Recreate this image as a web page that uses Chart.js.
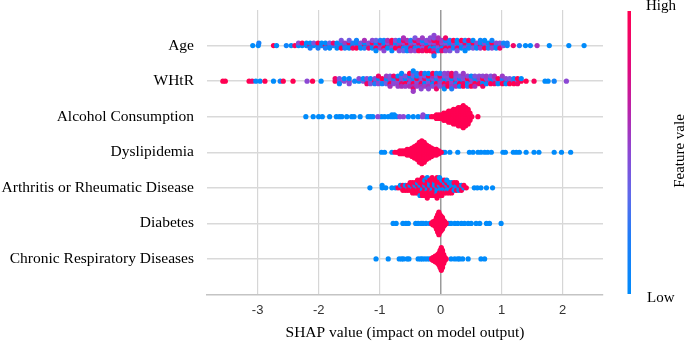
<!DOCTYPE html>
<html>
<head>
<meta charset="utf-8">
<script src="https://cdn.jsdelivr.net/npm/chart.js@4.4.0/dist/chart.umd.min.js"></script>
<style>
  html, body { margin: 0; padding: 0; background: #ffffff; }
  #wrap { width: 685px; height: 342px; }
</style>
</head>
<body>
<div id="wrap"><canvas id="shapChart" width="685" height="342"></canvas></div>
<script>
// feature rows, top to bottom
const features = [
    "Age",
    "WHtR",
    "Alcohol Consumption",
    "Dyslipidemia",
    "Arthritis or Rheumatic Disease",
    "Diabetes",
    "Chronic Respiratory Diseases"
];

const xTicks = [-3, -2, -1, 0, 1, 2];

// Age: SHAP value and scaled feature value (0 = low, 1 = high) per sample
const ageShap = [
    -3.08, -2.99, -2.98, -2.74, -2.69, -2.53, -2.45, -2.39, -2.33, -2.33,
    -2.27, -2.27,
    -2.20, -2.20,
    -2.14, -2.14, -2.14,
    -2.08, -2.08,
    -2.01, -2.01, -2.01,
    -1.95, -1.95,
    -1.89, -1.89, -1.89,
    -1.82, -1.82, -1.82,
    -1.76, -1.76,
    -1.70, -1.70, -1.70,
    -1.63, -1.63, -1.63, -1.63,
    -1.57, -1.57, -1.57,
    -1.50, -1.50, -1.50, -1.50,
    -1.44, -1.44, -1.44,
    -1.38, -1.38, -1.38, -1.38,
    -1.31, -1.31, -1.31,
    -1.25, -1.25, -1.25, -1.25,
    -1.18, -1.18, -1.18,
    -1.12, -1.12, -1.12, -1.12,
    -1.06, -1.06, -1.06, -1.06, -1.06,
    -0.99, -0.99, -0.99, -0.99,
    -0.93, -0.93, -0.93, -0.93, -0.93,
    -0.87, -0.87, -0.87, -0.87,
    -0.80, -0.80, -0.80, -0.80, -0.80,
    -0.74, -0.74, -0.74, -0.74,
    -0.68, -0.68, -0.68, -0.68, -0.68,
    -0.61, -0.61, -0.61, -0.61, -0.61, -0.61,
    -0.55, -0.55, -0.55, -0.55, -0.55,
    -0.49, -0.49, -0.49, -0.49, -0.49,
    -0.42, -0.42, -0.42, -0.42, -0.42, -0.42,
    -0.36, -0.36, -0.36, -0.36, -0.36,
    -0.30, -0.30, -0.30, -0.30, -0.30, -0.30,
    -0.23, -0.23, -0.23, -0.23, -0.23,
    -0.17, -0.17, -0.17, -0.17, -0.17, -0.17,
    -0.11, -0.11, -0.11, -0.11, -0.11, -0.11, -0.11, -0.11, -0.11,
    -0.04, -0.04, -0.04, -0.04, -0.04, -0.04,
    0.02, 0.02, 0.02, 0.02, 0.02,
    0.08, 0.08, 0.08, 0.08, 0.08, 0.08,
    0.15, 0.15, 0.15, 0.15, 0.15,
    0.21, 0.21, 0.21, 0.21,
    0.27, 0.27, 0.27, 0.27, 0.27,
    0.34, 0.34, 0.34, 0.34,
    0.40, 0.40, 0.40, 0.40, 0.40,
    0.46, 0.46, 0.46, 0.46,
    0.53, 0.53, 0.53, 0.53,
    0.59, 0.59, 0.59,
    0.65, 0.65, 0.65, 0.65,
    0.72, 0.72, 0.72, 0.72,
    0.78, 0.78, 0.78,
    0.84, 0.84, 0.84, 0.84,
    0.91, 0.91, 0.91,
    0.97, 0.97, 0.97,
    1.03, 1.03,
    1.09, 1.09,
    1.19, 1.29, 1.39, 1.47, 1.58, 1.78, 2.10, 2.35
];
const ageFeat = [
    0, 0, 0.15, 1, 0, 0.1, 0, 0.95, 0, 0.5,
    0, 1,
    0.1, 0,
    0.9, 0, 0.2,
    0, 0.45,
    0, 1, 0.2,
    0.1, 0,
    1, 0, 0.2,
    0, 0.4, 0,
    0.2, 0.9,
    0.5, 0, 0,
    0, 0.1, 1, 0.45,
    0, 0.55, 0.2,
    0.1, 1, 0, 0.4,
    0, 0.2, 0.9,
    0.5, 0, 1, 0.1,
    0, 0.45, 0,
    1, 0, 0.2, 0.6,
    0, 0.5, 0.85,
    0.1, 1, 0, 0.5,
    0.5, 0, 1, 0.4, 0,
    0, 0.9, 0.55, 0.2,
    0.45, 0, 1, 0.1, 0.5,
    1, 0.5, 0, 0.6,
    0.2, 0.9, 0.5, 1, 0,
    0.5, 0, 1, 0.45,
    0, 0.55, 1, 0.1, 0.5,
    1, 0.5, 0, 0.9, 0.4, 0.6,
    0.45, 1, 0.1, 0.6, 0,
    0, 0.5, 0.9, 0.2, 0.55,
    1, 0.4, 0, 1, 0.5, 0.45,
    0.5, 0.9, 0.1, 0.6, 1,
    1, 0.5, 0.45, 0, 0.85, 0.55,
    0.55, 0, 1, 0.5, 1,
    0.9, 0.45, 0, 0.6, 1, 0.5,
    1, 0.5, 0, 1, 0.6, 0.45, 0.9, 0.5, 0.1,
    0.5, 0.9, 0.45, 1, 0.1, 0.6,
    1, 0.5, 0, 0.55, 0.85,
    0, 0.45, 1, 0.1, 0.5, 0.9,
    0.5, 0, 0.9, 0.2, 0.45,
    0, 0.55, 0.1, 1,
    0.5, 0, 0.9, 0, 0.45,
    0.1, 0.45, 0, 1,
    0, 0.9, 0.5, 0.2, 0,
    0.5, 0, 0.1, 0.9,
    0, 1, 0.45, 0,
    0.2, 0.5, 0,
    0.9, 0, 0.55, 0.1,
    0, 0.5, 1, 0,
    0.45, 0, 0.2,
    0, 1, 0.5, 0.1,
    0.1, 0.5, 0,
    0, 0.45, 0.9,
    0.5, 0.1,
    0, 0.2,
    0.9, 0.2, 0, 0, 0.6, 0, 0, 0
];

// WHtR
const whtrShap = [
    -3.57, -3.53, -3.14, -3.09, -3.03, -2.96, -2.88, -2.74, -2.63, -2.58,
    -2.42, -2.19, -2.10, -1.96, -1.73, -1.73, -1.66, -1.66, -1.66,
    -1.58, -1.58, -1.50, -1.50, -1.50, -1.41,
    -1.34, -1.34,
    -1.27, -1.27,
    -1.21, -1.21, -1.21,
    -1.15, -1.15, -1.15,
    -1.08, -1.08, -1.08,
    -1.02, -1.02, -1.02, -1.02,
    -0.96, -0.96, -0.96,
    -0.89, -0.89, -0.89, -0.89,
    -0.83, -0.83, -0.83, -0.83, -0.83,
    -0.77, -0.77, -0.77, -0.77,
    -0.70, -0.70, -0.70, -0.70, -0.70,
    -0.64, -0.64, -0.64, -0.64, -0.64, -0.64,
    -0.58, -0.58, -0.58, -0.58, -0.58,
    -0.51, -0.51, -0.51, -0.51, -0.51, -0.51,
    -0.45, -0.45, -0.45, -0.45, -0.45, -0.45, -0.45, -0.45, -0.45,
    -0.39, -0.39, -0.39, -0.39, -0.39, -0.39,
    -0.32, -0.32, -0.32, -0.32, -0.32, -0.32, -0.32,
    -0.26, -0.26, -0.26, -0.26, -0.26, -0.26,
    -0.20, -0.20, -0.20, -0.20, -0.20, -0.20, -0.20,
    -0.13, -0.13, -0.13, -0.13, -0.13, -0.13,
    -0.07, -0.07, -0.07, -0.07, -0.07, -0.07, -0.07,
    -0.01, -0.01, -0.01, -0.01, -0.01, -0.01,
    0.06, 0.06, 0.06, 0.06, 0.06, 0.06, 0.06,
    0.12, 0.12, 0.12, 0.12, 0.12, 0.12,
    0.18, 0.18, 0.18, 0.18, 0.18, 0.18, 0.18,
    0.25, 0.25, 0.25, 0.25, 0.25, 0.25,
    0.31, 0.31, 0.31, 0.31, 0.31,
    0.37, 0.37, 0.37, 0.37, 0.37, 0.37,
    0.44, 0.44, 0.44, 0.44, 0.44,
    0.50, 0.50, 0.50, 0.50, 0.50,
    0.56, 0.56, 0.56, 0.56, 0.56,
    0.63, 0.63, 0.63, 0.63,
    0.69, 0.69, 0.69, 0.69, 0.69,
    0.75, 0.75, 0.75, 0.75,
    0.82, 0.82, 0.82, 0.82,
    0.88, 0.88, 0.88, 0.88,
    0.94, 0.94, 0.94,
    1.01, 1.01, 1.01, 1.01,
    1.07, 1.07, 1.07,
    1.13, 1.13, 1.13,
    1.20, 1.20, 1.20,
    1.26, 1.26, 1.26,
    1.32, 1.32,
    1.40, 1.53, 1.71, 1.76, 1.86, 2.06
];
const whtrFeat = [
    1, 1, 1, 0.9, 0, 0, 1, 0, 0.1, 1,
    1, 0.5, 1, 0, 1, 0.9, 0.5, 0.45, 0,
    0.5, 0, 0.55, 0, 0.5, 0.1,
    0, 0.5,
    0.45, 0,
    0.1, 0.5, 0.9,
    0.5, 0, 0.45,
    1, 0.5, 0.2,
    0.55, 0, 0.5, 0.9,
    0.45, 1, 0.1,
    0.5, 0, 0.4, 0.55,
    0, 0.5, 1, 0.45, 0.6,
    0.55, 0.2, 0.5, 0.9,
    0.45, 1, 0.5, 0, 0.55,
    0.1, 0.5, 0.9, 0.45, 0.6, 0,
    0.5, 0, 1, 0.45, 0.55,
    0.9, 0.5, 0.45, 0, 0.6, 1,
    0.5, 0.1, 1, 0.4, 0.6, 0.45, 0.9, 0, 0.55,
    0.45, 1, 0.5, 0, 0.55, 0.2,
    0, 0.5, 1, 0.45, 0.6, 0.9, 0.5,
    0.5, 0.9, 0, 0.45, 0.55, 0.1,
    0.45, 0.1, 0.5, 1, 0.6, 0, 0.5,
    0.9, 0.5, 0, 0.6, 0.45, 1,
    0.5, 0, 1, 0.45, 0.55, 0.2, 0.9,
    0, 0.55, 0.5, 0.9, 0.45, 0.1,
    0.5, 0, 1, 0.45, 0.6, 0.5, 0,
    0.1, 0.5, 0.9, 0.45, 1, 0.55,
    0.45, 0, 0.5, 1, 0.55, 0.9, 0.2,
    1, 0.5, 0, 0.45, 0.6, 0.5,
    0.5, 0.1, 1, 0.45, 0,
    0, 0.45, 0.9, 0.5, 1, 0.55,
    0.55, 1, 0, 0.5, 0.2,
    0.9, 0.5, 0.45, 0, 1,
    0.5, 0.1, 1, 0.45, 0.6,
    0, 0.55, 0.9, 0.5,
    0.45, 1, 0, 0.5, 0.9,
    0.9, 0.5, 0.1, 0.55,
    0.5, 0, 1, 0.45,
    0, 0.5, 0.9, 0.6,
    0.45, 1, 0,
    0.5, 0.2, 1, 0.55,
    0.9, 0.5, 0,
    0, 0.45, 1,
    0.5, 0.1, 1,
    0.45, 1, 0.9,
    1, 0,
    1, 0.95, 0, 0, 0.1, 0.5
];

// Alcohol Consumption, split by feature level
const alcoholLow = [
    -2.21, -2.09, -2.00, -1.94, -1.82, -1.71, -1.66, -1.62, -1.54, -1.46,
    -1.42, -1.32, -1.19, -1.15, -1.11, -0.97, -0.92, -0.86, -0.81, -0.80,
    -0.77, -0.76, -0.72, -0.53, -0.45, -0.37, -0.24, -0.20
];
const alcoholMid = [-1.03, -0.67, -0.61, -0.30, -0.29];
const alcoholHigh = [
    -0.15,
    -0.11,
    -0.07, -0.07, -0.07,
    -0.03, -0.03, -0.03,
    0.01, 0.01, 0.01,
    0.05, 0.05, 0.05, 0.05, 0.05,
    0.09, 0.09, 0.09, 0.09, 0.09,
    0.13, 0.13, 0.13, 0.13, 0.13, 0.13, 0.13,
    0.17, 0.17, 0.17, 0.17, 0.17, 0.17, 0.17,
    0.21, 0.21, 0.21, 0.21, 0.21, 0.21, 0.21, 0.21, 0.21,
    0.25, 0.25, 0.25, 0.25, 0.25, 0.25, 0.25, 0.25, 0.25,
    0.29, 0.29, 0.29, 0.29, 0.29, 0.29, 0.29, 0.29, 0.29, 0.29, 0.29,
    0.33, 0.33, 0.33, 0.33, 0.33, 0.33, 0.33, 0.33, 0.33, 0.33, 0.33,
    0.37, 0.37, 0.37, 0.37, 0.37, 0.37, 0.37, 0.37, 0.37, 0.37, 0.37, 0.37, 0.37,
    0.41, 0.41, 0.41, 0.41, 0.41, 0.41, 0.41, 0.41, 0.41, 0.41, 0.41,
    0.45, 0.45, 0.45, 0.45, 0.45, 0.45, 0.45, 0.45, 0.45,
    0.48, 0.48, 0.48, 0.48, 0.48,
    0.51,
    0.61
];

// Dyslipidemia
const dysLow = [
    -0.97, -0.92, -0.80, 0.04, 0.07, 0.15, 0.28, 0.47, 0.53, 0.61,
    0.66, 0.72, 0.77, 0.83, 1.02, 1.06, 1.19, 1.24, 1.29, 1.40,
    1.53, 1.61, 1.86, 1.98, 2.13
];
const dysHigh = [
    -0.75,
    -0.71,
    -0.67, -0.67, -0.67,
    -0.63, -0.63, -0.63,
    -0.59, -0.59, -0.59,
    -0.55, -0.55, -0.55, -0.55, -0.55,
    -0.51, -0.51, -0.51, -0.51, -0.51,
    -0.47, -0.47, -0.47, -0.47, -0.47, -0.47, -0.47,
    -0.43, -0.43, -0.43, -0.43, -0.43, -0.43, -0.43, -0.43, -0.43,
    -0.39, -0.39, -0.39, -0.39, -0.39, -0.39, -0.39, -0.39, -0.39, -0.39, -0.39,
    -0.35, -0.35, -0.35, -0.35, -0.35, -0.35, -0.35, -0.35, -0.35, -0.35, -0.35, -0.35, -0.35, -0.35, -0.35,
    -0.31, -0.31, -0.31, -0.31, -0.31, -0.31, -0.31, -0.31, -0.31, -0.31, -0.31, -0.31, -0.31, -0.31, -0.31, -0.31, -0.31,
    -0.27, -0.27, -0.27, -0.27, -0.27, -0.27, -0.27, -0.27, -0.27, -0.27, -0.27, -0.27, -0.27, -0.27, -0.27,
    -0.23, -0.23, -0.23, -0.23, -0.23, -0.23, -0.23, -0.23, -0.23, -0.23, -0.23,
    -0.19, -0.19, -0.19, -0.19, -0.19, -0.19, -0.19, -0.19, -0.19,
    -0.15, -0.15, -0.15, -0.15, -0.15, -0.15, -0.15,
    -0.11, -0.11, -0.11, -0.11, -0.11,
    -0.07, -0.07, -0.07, -0.07, -0.07,
    -0.03, -0.03, -0.03,
    0.01
];

// Arthritis or Rheumatic Disease (0 = no, 1 = yes)
const arthShap = [
    -1.16, -0.96, -0.96, -0.90, -0.80, -0.74,
    -0.70,
    -0.66, -0.66,
    -0.62, -0.62, -0.62,
    -0.58, -0.58, -0.58,
    -0.54, -0.54, -0.54,
    -0.50, -0.50, -0.50, -0.50,
    -0.46, -0.46, -0.46, -0.46, -0.46,
    -0.42, -0.42, -0.42, -0.42, -0.42,
    -0.38, -0.38, -0.38, -0.38, -0.38, -0.38,
    -0.34, -0.34, -0.34, -0.34, -0.34, -0.34, -0.34,
    -0.30, -0.30, -0.30, -0.30, -0.30, -0.30, -0.30, -0.30,
    -0.26, -0.26, -0.26, -0.26, -0.26, -0.26, -0.26,
    -0.22, -0.22, -0.22, -0.22, -0.22, -0.22, -0.22, -0.22, -0.22,
    -0.18, -0.18, -0.18, -0.18, -0.18, -0.18, -0.18,
    -0.14, -0.14, -0.14, -0.14, -0.14, -0.14, -0.14, -0.14,
    -0.10, -0.10, -0.10, -0.10, -0.10, -0.10, -0.10,
    -0.06, -0.06, -0.06, -0.06, -0.06, -0.06, -0.06, -0.06, -0.06,
    -0.02, -0.02, -0.02, -0.02, -0.02, -0.02, -0.02, -0.02,
    0.02, 0.02, 0.02, 0.02, 0.02, 0.02, 0.02,
    0.06, 0.06, 0.06, 0.06, 0.06, 0.06,
    0.10, 0.10, 0.10, 0.10, 0.10, 0.10,
    0.14, 0.14, 0.14, 0.14, 0.14,
    0.18, 0.18, 0.18, 0.18, 0.18,
    0.22, 0.22, 0.22, 0.22,
    0.26, 0.26, 0.26, 0.26,
    0.30, 0.30, 0.30,
    0.34, 0.34, 0.34,
    0.38, 0.38,
    0.42,
    0.55, 0.60, 0.66, 0.75, 0.85
];
const arthFeat = [
    0, 0, 0, 0, 0, 0,
    1,
    1, 0,
    0, 1, 1,
    1, 0, 1,
    0, 1, 1,
    1, 0, 1, 1,
    0, 1, 1, 1, 1,
    1, 0, 1, 1, 1,
    0, 1, 1, 0, 1, 1,
    1, 0, 1, 1, 1, 1, 0,
    0, 1, 0, 1, 1, 1, 1, 1,
    1, 0, 1, 1, 1, 0, 1,
    0, 1, 0, 1, 1, 1, 1, 0, 1,
    1, 0, 1, 0, 1, 1, 1,
    0, 1, 0, 1, 1, 1, 1, 1,
    1, 0, 1, 0, 1, 1, 1,
    0, 1, 0, 1, 0, 1, 1, 1, 1,
    1, 0, 0, 1, 1, 1, 1, 0,
    0, 1, 0, 1, 1, 0, 1,
    0, 1, 0, 0, 1, 1,
    1, 0, 0, 1, 1, 0,
    0, 1, 0, 0, 1,
    0, 0, 1, 0, 1,
    1, 0, 0, 1,
    0, 0, 1, 1,
    0, 1, 0,
    1, 0, 1,
    0, 1,
    1,
    0, 0, 0, 0, 0
];

// Diabetes
const diaLow = [
    -0.78, -0.73, -0.62, -0.57, -0.53, -0.41, -0.37, -0.32, -0.29, -0.24,
    -0.18, 0.13, 0.17, 0.23, 0.28, 0.34, 0.39, 0.45, 0.50, 0.58,
    0.64, 0.75, 0.80, 0.99
];
const diaHigh = [
    -0.15,
    -0.13, -0.13, -0.13,
    -0.11, -0.11, -0.11,
    -0.09, -0.09, -0.09, -0.09, -0.09,
    -0.07, -0.07, -0.07, -0.07, -0.07, -0.07, -0.07, -0.07, -0.07,
    -0.05, -0.05, -0.05, -0.05, -0.05, -0.05, -0.05, -0.05, -0.05, -0.05, -0.05, -0.05, -0.05,
    -0.03, -0.03, -0.03, -0.03, -0.03, -0.03, -0.03, -0.03, -0.03, -0.03, -0.03, -0.03, -0.03, -0.03, -0.03, -0.03, -0.03,
    -0.01, -0.01, -0.01, -0.01, -0.01, -0.01, -0.01, -0.01, -0.01, -0.01, -0.01, -0.01, -0.01,
    0.01, 0.01, 0.01, 0.01, 0.01, 0.01, 0.01, 0.01, 0.01, 0.01, 0.01,
    0.03, 0.03, 0.03, 0.03, 0.03, 0.03, 0.03, 0.03, 0.03,
    0.05, 0.05, 0.05, 0.05, 0.05,
    0.07, 0.07, 0.07,
    0.09
];

// Chronic Respiratory Diseases
const chrLow = [
    -1.06, -0.86, -0.68, -0.64, -0.61, -0.55, -0.52, -0.37, -0.33, -0.30,
    -0.26, -0.22, -0.18, 0.17, 0.23, 0.28, 0.31, 0.36, 0.45, 0.66,
    0.72
];
const chrHigh = [
    -0.15,
    -0.13, -0.13, -0.13,
    -0.11, -0.11, -0.11,
    -0.09, -0.09, -0.09, -0.09, -0.09,
    -0.07, -0.07, -0.07, -0.07, -0.07,
    -0.05, -0.05, -0.05, -0.05, -0.05, -0.05, -0.05,
    -0.03, -0.03, -0.03, -0.03, -0.03, -0.03, -0.03, -0.03, -0.03,
    -0.01, -0.01, -0.01, -0.01, -0.01, -0.01, -0.01, -0.01, -0.01, -0.01, -0.01, -0.01, -0.01,
    0.01, 0.01, 0.01, 0.01, 0.01, 0.01, 0.01, 0.01, 0.01, 0.01, 0.01, 0.01, 0.01, 0.01, 0.01, 0.01, 0.01,
    0.03, 0.03, 0.03, 0.03, 0.03, 0.03, 0.03, 0.03, 0.03, 0.03, 0.03, 0.03, 0.03,
    0.05, 0.05, 0.05, 0.05, 0.05, 0.05, 0.05,
    0.07, 0.07, 0.07,
    0.09
];

// shap-like colour map, low (blue) to high (red)
const colorStops = [
    [0, 0, 139, 251],
    [0.2, 30, 125, 248],
    [0.35, 95, 105, 235],
    [0.5, 140, 72, 212],
    [0.65, 185, 35, 170],
    [0.8, 225, 10, 125],
    [1, 255, 0, 82]
];

function featColor(f) {
    for (let i = 1; i < colorStops.length; i++) {
        const a = colorStops[i - 1], b = colorStops[i];
        if (f <= b[0]) {
            const t = (f - a[0]) / (b[0] - a[0]);
            const c = [1, 2, 3].map(k => Math.round(a[k] + (b[k] - a[k]) * t));
            return "rgb(" + c.join(",") + ")";
        }
    }
    return "rgb(255,0,82)";
}

// beeswarm offsets the way shap lays them out (binned, alternating up/down)
function swarm(vals) {
    const nbins = 100, rowHeight = 0.4;
    const lo = Math.min(...vals), hi = Math.max(...vals);
    const quant = vals.map(v => Math.round(nbins * (v - lo) / (hi - lo + 1e-8)));
    const order = vals.map((v, i) => i).sort((a, b) => quant[a] - quant[b] || a - b);
    const ys = new Array(vals.length).fill(0);
    let layer = 0, last = -1;
    order.forEach(i => {
        if (quant[i] !== last) layer = 0;
        ys[i] = Math.ceil(layer / 2) * ((layer % 2) * 2 - 1);
        layer++;
        last = quant[i];
    });
    const top = Math.max(...ys.map(y => y + 1));
    return ys.map(y => y * 0.9 * rowHeight / top);
}

const points = [];

function addRow(row, shap, feat) {
    const off = swarm(shap);
    shap.forEach((v, i) => points.push({ x: v, y: row - off[i], f: feat[i] }));
}

function addSplitRow(row, low, mid, high) {
    const shap = low.concat(mid, high);
    const feat = low.map(() => 0).concat(mid.map(() => 0.5), high.map(() => 1));
    addRow(row, shap, feat);
}

// bottom rows first, like shap
addSplitRow(6, chrLow, [], chrHigh);
addSplitRow(5, diaLow, [], diaHigh);
addRow(4, arthShap, arthFeat);
addSplitRow(3, dysLow, [], dysHigh);
addSplitRow(2, alcoholLow, alcoholMid, alcoholHigh);
addRow(1, whtrShap, whtrFeat);
addRow(0, ageShap, ageFeat);

const serif = "'Liberation Serif', 'Times New Roman', serif";

const colorBar = {
    id: "colorBar",
    afterDraw(chart) {
        const c = chart.ctx;
        const top = 11, bottom = 294, x = 627.5, w = 3.5;
        const g = c.createLinearGradient(0, bottom, 0, top);
        colorStops.forEach(s => g.addColorStop(s[0], "rgb(" + s[1] + "," + s[2] + "," + s[3] + ")"));
        c.save();
        c.fillStyle = g;
        c.fillRect(x, top, w, bottom - top);
        c.fillStyle = "#000";
        c.font = "15px " + serif;
        c.textAlign = "left";
        c.textBaseline = "middle";
        c.fillText("High", 646, 6);
        c.fillText("Low", 647, 298);
        c.translate(680, 151);
        c.rotate(-Math.PI / 2);
        c.textAlign = "center";
        c.fillText("Feature vale", 0, 0);
        c.restore();
    }
};

new Chart(document.getElementById("shapChart"), {

    type: "scatter",

    data: {
        datasets: [{
            data: points,
            backgroundColor: ctx => featColor(ctx.raw ? ctx.raw.f : 0),
            pointRadius: 2.6,
            pointHoverRadius: 2.6,
            borderWidth: 0
        }]
    },

    options: {

        responsive: false,
        animation: false,

        layout: {
            padding: { top: 10, right: 82, left: 0, bottom: 0 }
        },

        plugins: {
            legend: { display: false },
            tooltip: { enabled: false }
        },

        scales: {

            x: {
                type: "linear",
                min: -3.83,
                max: 2.66,
                afterBuildTicks: s => { s.ticks = xTicks.map(v => ({ value: v })); },
                afterFit: s => { s.height = 47.5; s.paddingLeft = 0; s.paddingRight = 0; },
                grid: {
                    color: ctx => (ctx.tick && ctx.tick.value === 0) ? "#9a9a9a" : "#d6d6d6",
                    lineWidth: ctx => (ctx.tick && ctx.tick.value === 0) ? 1.5 : 1.2,
                    drawTicks: false
                },
                border: { display: true, color: "#c4c4c4", width: 1.5 },
                ticks: {
                    padding: 8,
                    color: "#333",
                    font: { family: "'Liberation Sans', Arial, sans-serif", size: 13 },
                    callback: v => String(v)
                },
                title: {
                    display: true,
                    text: "SHAP value (impact on model output)",
                    color: "#000",
                    font: { family: serif, size: 15.5 },
                    padding: { top: 0, bottom: 0 }
                }
            },

            y: {
                type: "linear",
                reverse: true,
                min: -1,
                max: 7,
                afterBuildTicks: s => { s.ticks = features.map((f, i) => ({ value: i })); },
                afterFit: s => { s.width = 207; s.paddingTop = 0; s.paddingBottom = 0; },
                grid: {
                    color: "#d9d9d9",
                    lineWidth: 1.5,
                    drawTicks: false
                },
                border: { display: false },
                ticks: {
                    padding: 13,
                    color: "#000",
                    font: { family: serif, size: 15.5 },
                    callback: v => features[v]
                }
            }

        }

    },

    plugins: [colorBar]

});
</script>
</body>
</html>
